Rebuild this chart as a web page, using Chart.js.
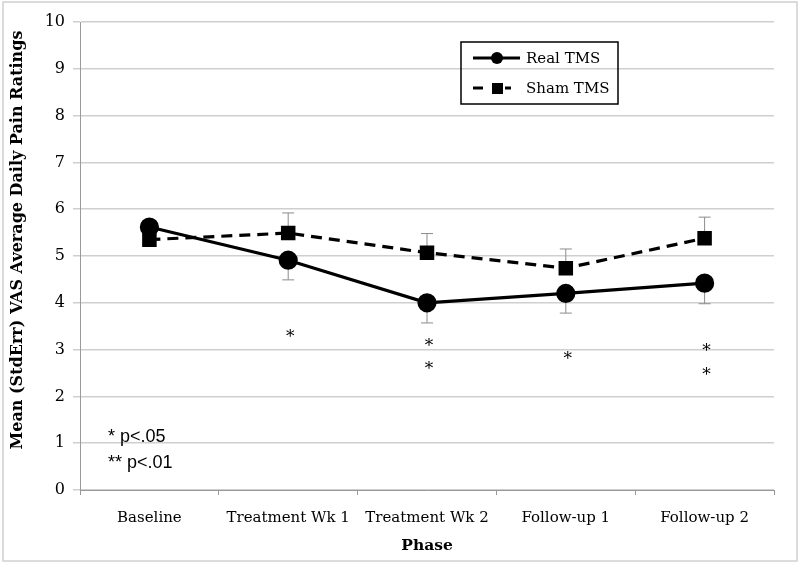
<!DOCTYPE html>
<html><head><meta charset="utf-8">
<script src="https://cdn.jsdelivr.net/npm/chart.js@4/dist/chart.umd.min.js"></script>
<style>html,body{margin:0;padding:0;background:#fff}#wrap{width:800px;height:563px;position:relative}</style>
</head><body><div id="wrap"><canvas id="c" width="800" height="563"></canvas></div>
<script>
const categories = ['Baseline','Treatment Wk 1','Treatment Wk 2','Follow-up 1','Follow-up 2'];
const realTMS = [5.62, 4.91, 4.00, 4.20, 4.42];
const realErr = [0.15, 0.42, 0.43, 0.42, 0.44];
const shamTMS = [5.35, 5.49, 5.07, 4.74, 5.38];
const shamErr = [0.15, 0.43, 0.41, 0.41, 0.45];
const sigStars = [[], [3.35], [3.14, 2.65], [2.88], [3.05, 2.52]];
const noteLines = ['* p<.05', '** p<.01'];
const yTicks = [0,1,2,3,4,5,6,7,8,9,10];
const yTitle = 'Mean (StdErr) VAS Average Daily Pain Ratings';
const xTitle = 'Phase';
const serif = "'DejaVu Serif', serif";

const errUnder = {
  id: 'errUnder',
  beforeDatasetsDraw(chart) {
    const ctx = chart.ctx, x = chart.scales.x, y = chart.scales.y;
    ctx.save();
    ctx.strokeStyle = '#8c8c8c'; ctx.lineWidth = 1;
    const draw = (vals, errs, dir) => {
      vals.forEach((v, i) => {
        const px = x.getPixelForValue(i);
        const y0 = y.getPixelForValue(v), y1 = y.getPixelForValue(v + dir * errs[i]);
        ctx.beginPath(); ctx.moveTo(px, y0); ctx.lineTo(px, y1);
        ctx.moveTo(px - 6, y1); ctx.lineTo(px + 6, y1); ctx.stroke();
      });
    };
    draw(realTMS, realErr, -1);
    draw(shamTMS, shamErr, 1);
    ctx.restore();
  }
};

const annotPlugin = {
  id: 'annot',
  afterDraw(chart) {
    const ctx = chart.ctx, x = chart.scales.x, y = chart.scales.y;
    ctx.save();
    ctx.fillStyle = '#000';
    ctx.font = "17px " + serif;
    ctx.textAlign = 'center'; ctx.textBaseline = 'middle';
    sigStars.forEach((arr, i) => {
      arr.forEach(v => ctx.fillText('*', x.getPixelForValue(i) + 2, y.getPixelForValue(v) + 4));
    });
    ctx.font = "18px 'Liberation Sans', Arial, sans-serif";
    ctx.textAlign = 'left';
    noteLines.forEach((t, k) => ctx.fillText(t, 108, 437 + k * 26));
    // y title
    ctx.save();
    ctx.translate(18, 240); ctx.rotate(-Math.PI / 2);
    ctx.textAlign = 'center';
    ctx.font = "bold 16px " + serif;
    ctx.fillText(yTitle, 0, 0);
    ctx.restore();
    // legend
    const lx = 461, ly = 42, lw = 157, lh = 62;
    ctx.strokeStyle = '#000'; ctx.lineWidth = 1.5;
    ctx.strokeRect(lx, ly, lw, lh);
    const ds = chart.data.datasets;
    ctx.lineWidth = 3; ctx.setLineDash([]);
    ctx.beginPath(); ctx.moveTo(473, 58); ctx.lineTo(520, 58); ctx.stroke();
    ctx.beginPath(); ctx.arc(497, 58, 6, 0, Math.PI*2); ctx.fill();
    ctx.beginPath(); ctx.moveTo(473, 88); ctx.lineTo(483, 88); ctx.moveTo(505, 88); ctx.lineTo(511, 88); ctx.stroke();
    ctx.fillRect(492, 83, 11, 11);
    ctx.font = "15px " + serif; ctx.textAlign = 'left';
    ctx.fillText(ds[0].label, 526, 59);
    ctx.fillText(ds[1].label, 526, 89);
    // outer border
    ctx.strokeStyle = '#d0d0d0'; ctx.lineWidth = 1.5;
    ctx.strokeRect(3, 2, 794, 559);
    ctx.restore();
  }
};

new Chart(document.getElementById('c'), {
  type: 'line',
  data: {
    labels: categories,
    datasets: [
      { label: 'Real TMS', data: realTMS, borderColor: '#000', backgroundColor: '#000', borderWidth: 3.2,
        pointStyle: 'circle', pointRadius: 8, pointHoverRadius: 8, tension: 0, order: 1 },
      { label: 'Sham TMS', data: shamTMS, borderColor: '#000', backgroundColor: '#000', borderWidth: 3.2,
        borderDash: [11, 7], pointStyle: 'rect', pointRadius: 8, pointHoverRadius: 8, tension: 0, order: 2 }
    ]
  },
  options: {
    responsive: false, animation: false,
    layout: { padding: { left: 0, right: 26, top: 22, bottom: 0 } },
    plugins: { legend: { display: false }, tooltip: { enabled: false } },
    scales: {
      x: {
        offset: true,
        afterFit(s){ s.height = 73; },
        grid: { drawOnChartArea: false, offset: true, tickLength: 5, color: '#999' },
        border: { color: '#999', width: 1 },
        ticks: { color: '#000', font: { family: serif, size: 15 }, padding: 14, maxRotation: 0 },
        title: { display: true, text: xTitle, color: '#000', font: { family: serif, size: 15.5, weight: 'bold' }, padding: { top: 0, bottom: 8 } }
      },
      y: {
        min: 0, max: 10,
        afterFit(s){ s.width = 80; },
        afterBuildTicks(s){ s.ticks = yTicks.map(v => ({ value: v })); },
        grid: { color: '#cfcfcf', lineWidth: 1.5, tickLength: 7, drawTicks: true },
        border: { color: '#999', width: 1 },
        ticks: { color: '#000', font: { family: serif, size: 16 }, padding: 8 },
        title: { display: false }
      }
    }
  },
  plugins: [errUnder, annotPlugin]
});
</script></body></html>
